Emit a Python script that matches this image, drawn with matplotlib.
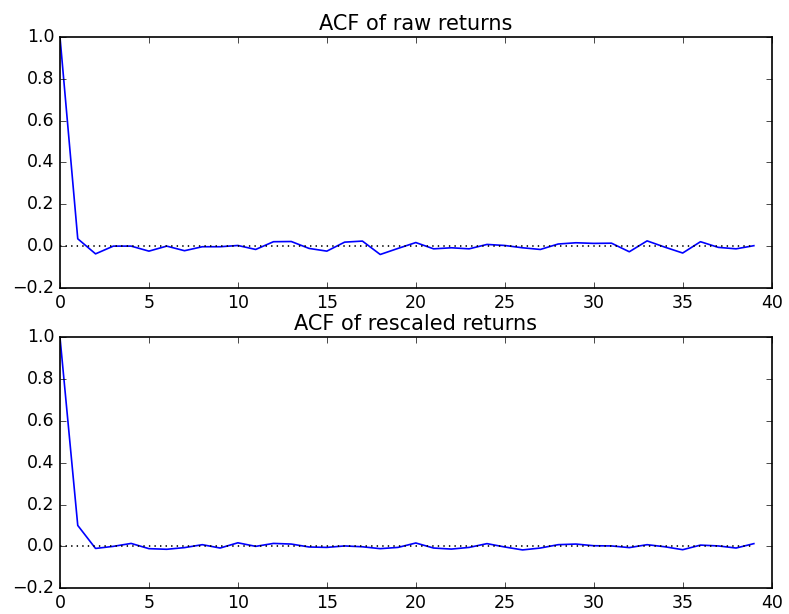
import numpy as np
import matplotlib
matplotlib.use("Agg")
import matplotlib.pyplot as plt

plt.style.use('classic')

# ACF values (lags 0..39)
lags = np.arange(40)
acf_raw = [1.0, 0.035, -0.037, 0.0, 0.0, -0.024, 0.0, -0.022, -0.003, -0.003,
           0.003, -0.016, 0.021, 0.022, -0.011, -0.024, 0.019, 0.024, -0.040, -0.011,
           0.017, -0.013, -0.008, -0.013, 0.008, 0.003, -0.008, -0.016, 0.010, 0.016,
           0.013, 0.014, -0.027, 0.025, -0.005, -0.033, 0.021, -0.006, -0.013, 0.002]
acf_rescaled = [1.0, 0.100, -0.010, 0.0, 0.014, -0.011, -0.014, -0.006, 0.008, -0.008,
                0.017, 0.0, 0.014, 0.011, -0.003, -0.005, 0.002, -0.002, -0.011, -0.005,
                0.016, -0.008, -0.013, -0.005, 0.013, -0.003, -0.017, -0.008, 0.008, 0.011,
                0.003, 0.002, -0.006, 0.008, -0.002, -0.016, 0.006, 0.002, -0.008, 0.013]
titles = ['ACF of raw returns', 'ACF of rescaled returns']

fig = plt.figure(figsize=(7.89, 6.14), dpi=100, facecolor='white')
ax1 = fig.add_axes([0.076, 0.531, 0.902, 0.409])
ax2 = fig.add_axes([0.076, 0.042, 0.902, 0.409])

for ax, acf, title in zip([ax1, ax2], [acf_raw, acf_rescaled], titles):
    ax.plot(lags, acf, 'b-', lw=1.2)
    ax.plot([lags[0], lags[-1]], [0, 0], 'k:', lw=1.2)
    ax.set_xlim(0, 40)
    ax.set_ylim(-0.2, 1.0)
    ax.set_title(title, fontsize=15)
    ax.tick_params(labelsize=12.5)
    for sp in ax.spines.values():
        sp.set_linewidth(1.2)

fig.savefig('out.png', dpi=100, facecolor='white')
